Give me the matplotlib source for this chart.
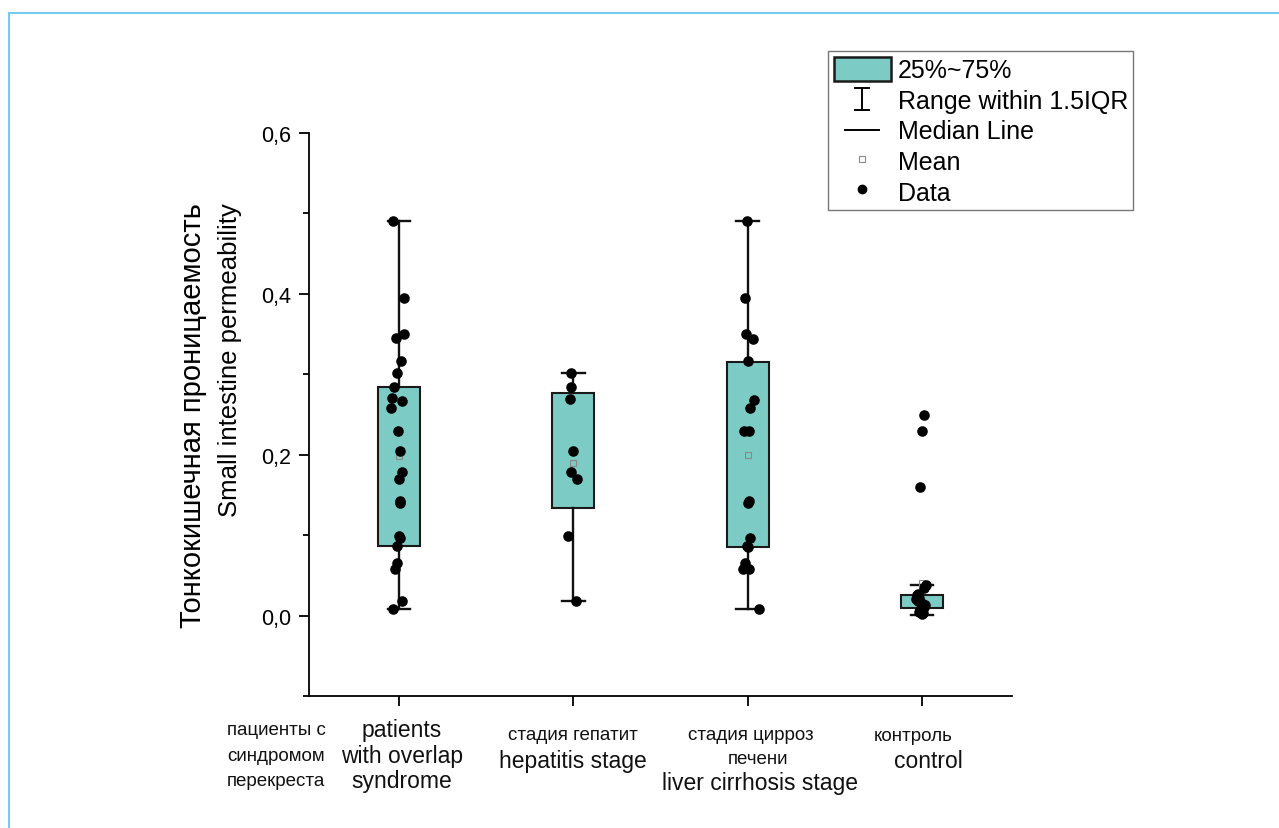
import matplotlib
matplotlib.use('Agg')
import matplotlib.pyplot as plt
import matplotlib.transforms as mtransforms
from matplotlib.lines import Line2D
from matplotlib.patches import Patch
from matplotlib.legend_handler import HandlerBase
from matplotlib.ticker import FuncFormatter, MultipleLocator

plt.rcParams['font.family'] = ['Liberation Sans', 'DejaVu Sans']

# данные
positions = [1, 2, 3, 4]

overlap = [0.490, 0.395, 0.350, 0.345, 0.316, 0.301, 0.284, 0.270, 0.267, 0.258, 0.230, 0.205,
           0.178, 0.170, 0.143, 0.140, 0.099, 0.096, 0.087, 0.065, 0.058, 0.018, 0.008]
hepatitis = [0.301, 0.284, 0.269, 0.205, 0.178, 0.170, 0.099, 0.018]
cirrhosis = [0.490, 0.395, 0.350, 0.344, 0.316, 0.268, 0.258, 0.230, 0.230, 0.143, 0.140,
             0.097, 0.087, 0.085, 0.065, 0.058, 0.058, 0.008]
control = [0.250, 0.229, 0.160, 0.038, 0.034, 0.027, 0.025, 0.024, 0.022, 0.020, 0.018, 0.016,
           0.015, 0.013, 0.011, 0.009, 0.007, 0.005, 0.003, 0.002]

# горизонтальный разброс точек (в пикселях рисунка)
overlap_jit = [-6, 5, 5, -3, 2, -2, -5, -7, 3, -8, -1, 1, 3, 0, 1, 1, 0, 1, -2, -2, -4, 3, -6]
hepatitis_jit = [-2, -2, -3, 0, -2, 4, -5, 3]
cirrhosis_jit = [-1, -3, -2, 5, 0, 6, 2, -4, 1, 1, 0, 2, -1, 0, -3, -5, 1, 11]
control_jit = [2, 0, -2, 4, 2, -4, -5, -5, -3, -6, -4, -1, 1, 3, 2, 0, -2, -3, 1, 0]

# статистика боксов (Origin)
q1 = [0.087, 0.134, 0.085, 0.010]
q3 = [0.284, 0.277, 0.315, 0.025]
whis_lo = [0.008, 0.018, 0.008, 0.001]
whis_hi = [0.490, 0.301, 0.490, 0.038]
means = [0.198, 0.190, 0.200, 0.041]
medians = [0.205, 0.190, 0.200, 0.015]

legend_labels = ['25%~75%', 'Range within 1.5IQR', 'Median Line', 'Mean', 'Data']
ylabel_ru = 'Тонкокишечная проницаемость'
ylabel_en = 'Small intestine permeability'

box_color = '#7dcbc5'

fig = plt.figure(figsize=(12.79, 8.29), dpi=100)
ax = fig.add_axes([309 / 1279, 1 - 697 / 829, 703 / 1279, 563 / 829])

stats = []
for i in range(4):
    stats.append(dict(q1=q1[i], q3=q3[i], whislo=whis_lo[i], whishi=whis_hi[i],
                      med=medians[i], mean=means[i], fliers=[]))

ax.bxp(stats, positions=positions, widths=0.24, capwidths=0.13,
       patch_artist=True, showmeans=True, showfliers=False,
       boxprops=dict(facecolor=box_color, edgecolor='#1a1a1a', linewidth=1.5),
       whiskerprops=dict(color='#111111', linewidth=1.7),
       capprops=dict(color='#111111', linewidth=1.7),
       medianprops=dict(visible=False),
       meanprops=dict(marker='s', markerfacecolor='none', markeredgecolor='#8a8a8a',
                      markersize=5, markeredgewidth=0.8))

px = 1 / 174.5  # пиксель -> единицы оси x
groups = [(overlap, overlap_jit), (hepatitis, hepatitis_jit),
          (cirrhosis, cirrhosis_jit), (control, control_jit)]
for p, (vals, jit) in zip(positions, groups):
    xs = [p + j * px for j in jit]
    ax.scatter(xs, vals, s=58, color='black', zorder=4, linewidths=0)

ax.set_xlim(0.484, 4.516)
ax.set_ylim(-0.1, 0.6)
ax.spines['top'].set_visible(False)
ax.spines['right'].set_visible(False)
for s in ['left', 'bottom']:
    ax.spines[s].set_linewidth(1.3)
ax.yaxis.set_major_locator(MultipleLocator(0.2))
ax.yaxis.set_minor_locator(MultipleLocator(0.1))
ax.yaxis.set_major_formatter(FuncFormatter(lambda v, pos: ('%.1f' % v).replace('.', ',')))
ax.tick_params(axis='y', which='major', length=7, width=1.3, labelsize=15.5, pad=6)
ax.tick_params(axis='y', which='minor', length=4, width=1.3)
ax.set_xticks(positions)
ax.set_xticklabels([])
ax.tick_params(axis='x', which='major', length=7, width=1.3)

# подписи категорий
tr = mtransforms.blended_transform_factory(ax.transData, fig.transFigure)


def fy(y):
    return 1 - y / 829


ru = dict(fontsize=13.5, ha='center', va='center', color='#111111')
en = dict(fontsize=16.5, ha='center', va='center', color='#111111')
for y, t in zip([731, 757, 782], ['пациенты с', 'синдромом', 'перекреста']):
    fig.text(1 - 123 * px, fy(y), t, transform=tr, **ru)
for y, t in zip([731, 757, 782], ['patients', 'with overlap', 'syndrome']):
    fig.text(1 + 3 * px, fy(y), t, transform=tr, **en)
fig.text(2, fy(736), 'стадия гепатит', transform=tr, **ru)
fig.text(2, fy(762), 'hepatitis stage', transform=tr, **en)
fig.text(3 + 3 * px, fy(736), 'стадия цирроз', transform=tr, **ru)
fig.text(3 + 10 * px, fy(760), 'печени', transform=tr, **ru)
fig.text(3 + 12 * px, fy(784), 'liver cirrhosis stage', transform=tr, **en)
fig.text(4 - 9 * px, fy(737), 'контроль', transform=tr, **ru)
fig.text(4 + 6 * px, fy(762), 'control', transform=tr, **en)

# подпись оси y (две строки, выровнены по концу)
fig.text(193 / 1279, fy(203), ylabel_ru, rotation=90, ha='center', va='top', fontsize=21)
fig.text(230 / 1279, fy(203), ylabel_en, rotation=90, ha='center', va='top', fontsize=18.5)


class HandlerIBeam(HandlerBase):
    def create_artists(self, legend, orig_handle, xdescent, ydescent, width, height,
                       fontsize, trans):
        xc = width / 2 - xdescent
        yc = height / 2 - ydescent
        hw, hh = 4.7, 8
        lines = [Line2D([xc, xc], [yc - hh, yc + hh]),
                 Line2D([xc - hw, xc + hw], [yc + hh, yc + hh]),
                 Line2D([xc - hw, xc + hw], [yc - hh, yc - hh])]
        for ln in lines:
            ln.set_color('black')
            ln.set_linewidth(1.4)
            ln.set_transform(trans)
        return lines


class HandlerShortLine(HandlerBase):
    def create_artists(self, legend, orig_handle, xdescent, ydescent, width, height,
                       fontsize, trans):
        xc = width / 2 - xdescent
        yc = height / 2 - ydescent
        ln = Line2D([xc - 12, xc + 12], [yc, yc], color='black', linewidth=1.4)
        ln.set_transform(trans)
        return [ln]


h_box = Patch(facecolor=box_color, edgecolor='#1a1a1a', linewidth=1.8)
h_range = Line2D([], [])
h_med = Line2D([], [], color='black')
h_mean = Line2D([], [], linestyle='none', marker='s', markerfacecolor='none',
                markeredgecolor='#8a8a8a', markersize=5, markeredgewidth=0.8)
h_data = Line2D([], [], linestyle='none', marker='o', color='black', markersize=6)

leg = fig.legend([h_box, h_range, h_med, h_mean, h_data], legend_labels,
                 handler_map={h_range: HandlerIBeam(), h_med: HandlerShortLine()},
                 loc='upper left', bbox_to_anchor=(828 / 1279, fy(52)), borderaxespad=0,
                 fontsize=18, handlelength=2.28, handleheight=1.12, handletextpad=0.28,
                 labelspacing=0.2, borderpad=0.22, fancybox=False, framealpha=1,
                 edgecolor='#777777')
leg.get_frame().set_linewidth(1.0)

# голубая рамка страницы
fig.add_artist(Line2D([9 / 1279, 1], [fy(14), fy(14)], transform=fig.transFigure,
                      color='#74cdf0', linewidth=1.5))
fig.add_artist(Line2D([9 / 1279, 9 / 1279], [0, fy(14)], transform=fig.transFigure,
                      color='#74cdf0', linewidth=1.5))

fig.savefig('out.png', dpi=100)
